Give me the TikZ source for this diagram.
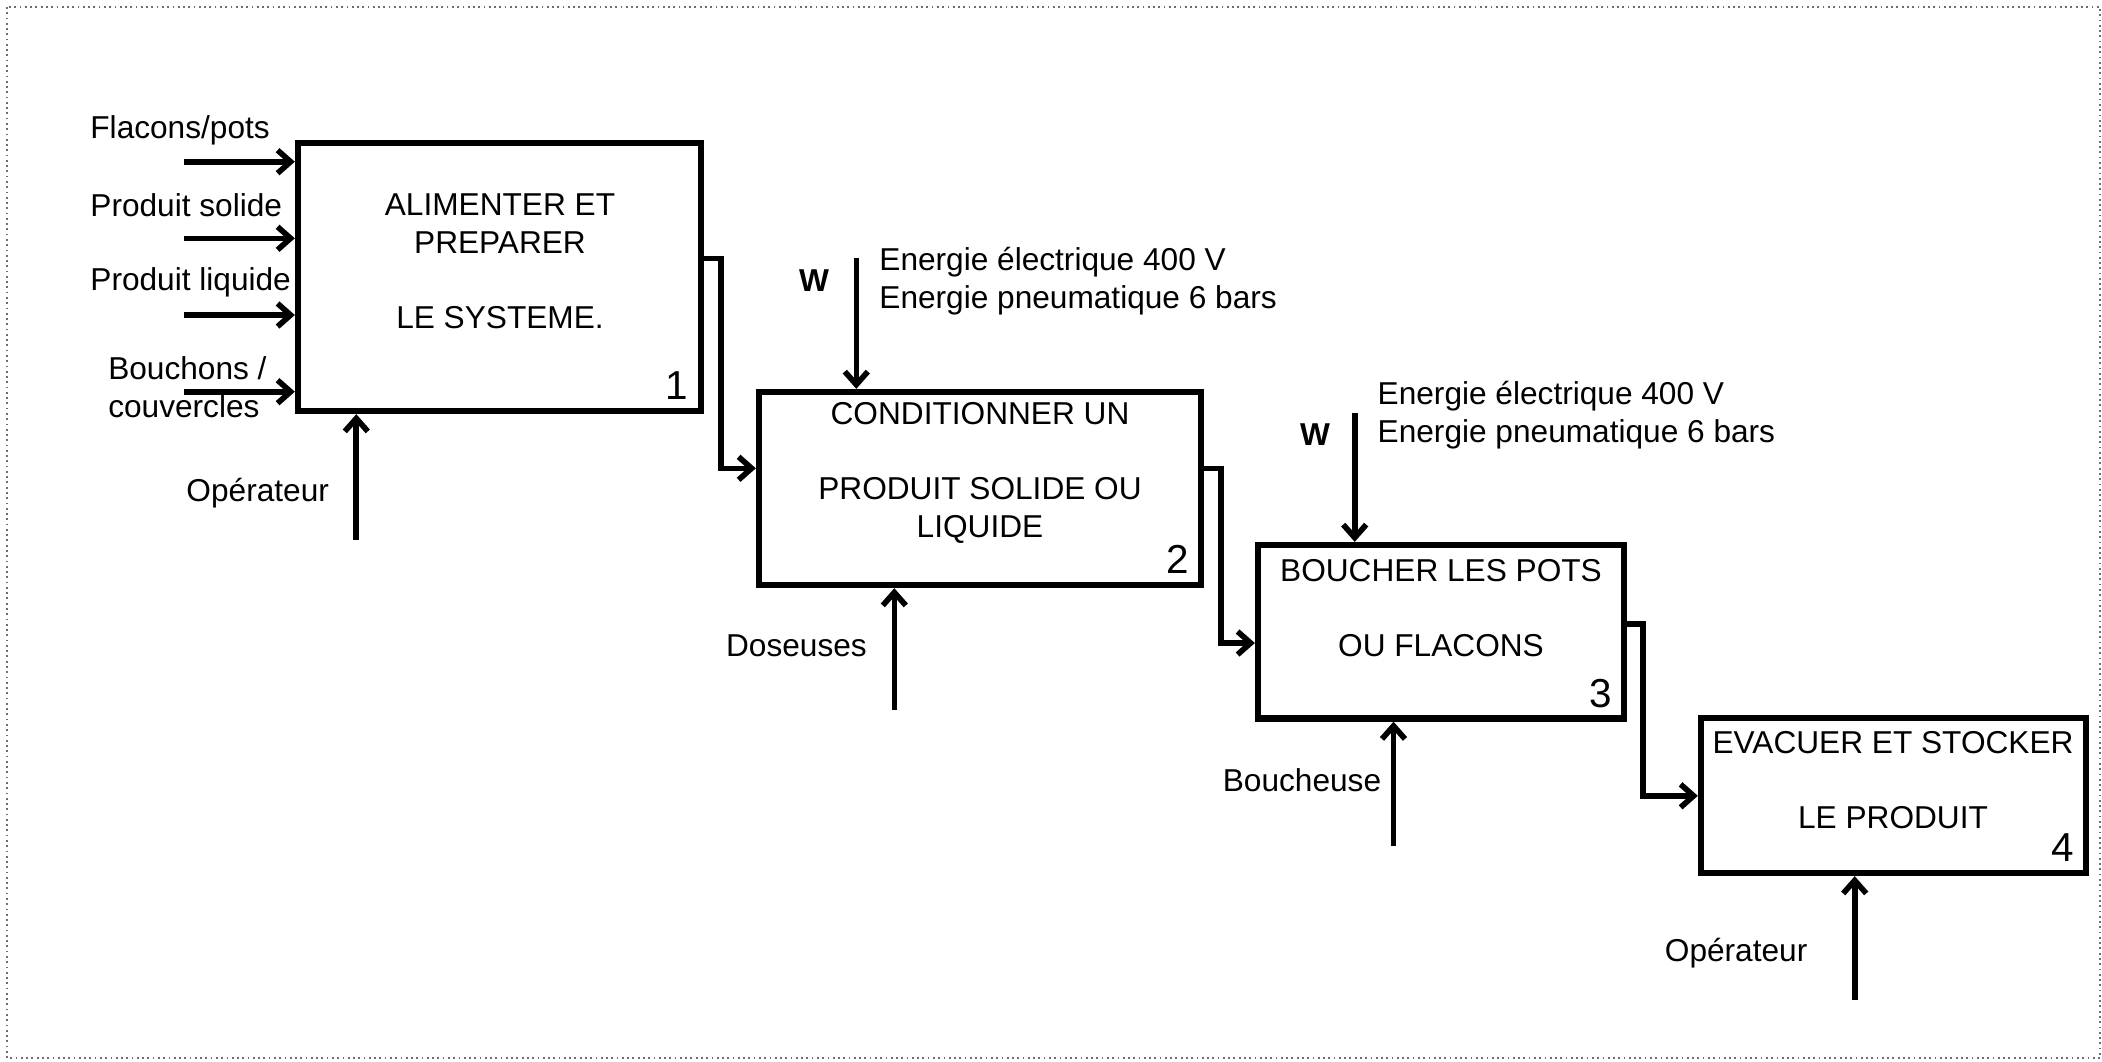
\documentclass[tikz,border=0pt]{standalone}
\usepackage{fontspec}
\setmainfont{Liberation Sans}
\usetikzlibrary{positioning,calc,arrows.meta}
\usepackage{xcolor}
\definecolor{framegray}{RGB}{110,110,110}

\begin{document}
\begin{tikzpicture}[
    font=\fontsize{9}{10.7}\selectfont,
    block/.style={rectangle, draw, line width=1.8pt, inner sep=0pt},
    blocktext/.style={align=center, inner sep=0pt},
    blocknum/.style={font=\fontsize{11.5}{12}\selectfont, inner sep=0pt, anchor=south east},
    flowlabel/.style={inner sep=0pt},
    wlabel/.style={font=\fontsize{9}{10.7}\selectfont\bfseries, inner sep=0pt},
    flow/.style={line width=1.6pt, -{Straight Barb[length=1.3mm,width=2.3mm]}}
]

\useasboundingbox (0,0) rectangle (21.02,-10.61);
\draw[framegray, densely dotted, line width=0.5pt] (0.07,-0.07) rectangle (21.0,-10.58);

% blocks
\node[block, minimum width=4.03cm, minimum height=2.68cm] (b1) at (4.995,-2.77) {};
\node[block, minimum width=4.42cm, minimum height=1.93cm] (b2) at (9.80,-4.885) {};
\node[block, minimum width=3.66cm, minimum height=1.735cm] (b3) at (14.41,-6.3175) {};
\node[block, minimum width=3.85cm, minimum height=1.55cm] (b4) at (18.935,-7.955) {};

\node[blocktext] (t1) at (5.00,-2.615) {ALIMENTER ET\\PREPARER\\[10.7pt]LE SYSTEME.};
\node[blocktext] (t2) at (9.80,-4.727) {CONDITIONNER UN\\[10.7pt]PRODUIT SOLIDE OU\\LIQUIDE};
\node[blocktext] (t3) at (14.41,-6.08) {BOUCHER LES POTS\\[10.7pt]OU FLACONS};
\node[blocktext] (t4) at (18.93,-7.80) {EVACUER ET STOCKER\\[10.7pt]LE PRODUIT};

\foreach \b/\n in {b1/1, b2/2, b3/3, b4/4} {
    \node[blocknum] (n\n) at ($(\b.south east)+(-0.15,0.135)$) {\n};
}

% inputs of block 1
\coordinate (in1) at (1.84,-1.617);
\coordinate (in2) at (1.84,-2.383);
\coordinate (in3) at (1.84,-3.15);
\coordinate (in4) at (1.84,-3.917);
\foreach \c in {in1,in2,in3,in4} {
    \draw[flow] (\c) -- (\c -| b1.west);
}
\node[flowlabel, anchor=west] (lfla) at (0.897,-1.30) {Flacons/pots};
\node[flowlabel, anchor=west] (lsol) at (0.897,-2.05) {Produit solide};
\node[flowlabel, anchor=west] (lliq) at (0.897,-2.82) {Produit liquide};
\node[flowlabel, anchor=west, align=left] (lbou) at (1.076,-3.87) {Bouchons /\\couvercles};

% links between blocks
\coordinate (j1) at (7.21,-2.583);
\coordinate (j2) at (7.21,-4.683);
\draw[flow] (b1.east |- j1) -- (j1) -- (j2) -- (j2 -| b2.west);
\coordinate (j3) at (12.21,-4.683);
\coordinate (j4) at (12.21,-6.43);
\draw[flow] (b2.east |- j3) -- (j3) -- (j4) -- (j4 -| b3.west);
\coordinate (j5) at (16.43,-6.237);
\coordinate (j6) at (16.43,-7.958);
\draw[flow] (b3.east |- j5) -- (j5) -- (j6) -- (j6 -| b4.west);

% energy
\coordinate (w2) at (8.563,-2.583);
\draw[flow] (w2) -- (w2 |- b2.north);
\node[wlabel] (wl2) at (8.14,-2.81) {W};
\node[flowlabel, anchor=west, align=left] (en2) at (8.787,-2.81) {Energie électrique 400 V\\Energie pneumatique 6 bars};

\coordinate (w3) at (13.547,-4.127);
\draw[flow] (w3) -- (w3 |- b3.north);
\node[wlabel] (wl3) at (13.15,-4.348) {W};
\node[flowlabel, anchor=west, align=left] (en3) at (13.77,-4.15) {Energie électrique 400 V\\Energie pneumatique 6 bars};

% supports
\coordinate (m1) at (3.563,-5.40);
\draw[flow] (m1) -- (m1 |- b1.south);
\node[flowlabel, anchor=east] (lop1) at (3.296,-4.93) {Opérateur};

\coordinate (m2) at (8.943,-7.10);
\draw[flow] (m2) -- (m2 |- b2.south);
\node[flowlabel, anchor=east] (ldos) at (8.675,-6.46) {Doseuses};

\coordinate (m3) at (13.935,-8.464);
\draw[flow] (m3) -- (m3 |- b3.south);
\node[flowlabel, anchor=east] (lbch) at (13.818,-7.80) {Boucheuse};

\coordinate (m4) at (18.547,-10.0);
\draw[flow] (m4) -- (m4 |- b4.south);
\node[flowlabel, anchor=east] (lop4) at (18.08,-9.53) {Opérateur};

\end{tikzpicture}
\end{document}
